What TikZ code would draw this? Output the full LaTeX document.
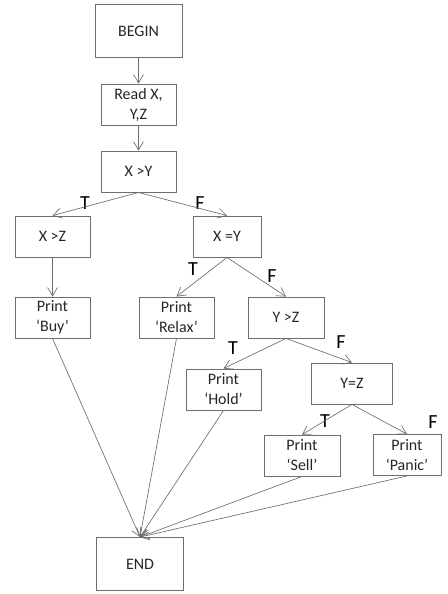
\documentclass[tikz,border=0pt]{standalone}
\usepackage{fontspec}
\setmainfont{Carlito}
\usetikzlibrary{arrows.meta}
\definecolor{edge}{HTML}{6E6E6E}
\tikzset{
  % A flowchart box: a step or a test
  stepbox/.style={
    draw=edge, fill=white, rectangle, align=center, text=black!85,
    font=\fontsize{12}{15}\selectfont, inner sep=2pt,
    minimum width=#1, minimum height=31pt},
  % The large begin / end boxes
  termbox/.style={stepbox=#1, minimum height=40pt},
  % Branch labels
  branch/.style={font=\fontsize{15}{15}\selectfont, text=black, inner sep=0pt},
  % Connectors
  flow/.style={-{Straight Barb[length=2.2mm, width=2.6mm]}, draw=edge, line width=0.5pt},
}

\begin{document}
\begin{tikzpicture}[x=0.75pt, y=-0.75pt]
  \useasboundingbox (0,0) rectangle (448,594);

  \node[termbox=65pt] (begin) at (138.5,31) {BEGIN};
  \node[stepbox=56pt] (read) at (138.5,104.5) {Read X,\\Y,Z};
  \node[stepbox=56pt] (xgty) at (138.5,171.5) {X >Y};

  \node[stepbox=56pt] (xgtz) at (52.5,236.5) {X >Z};
  \node[stepbox=51pt] (xeqy) at (227,236.5) {X =Y};

  \node[stepbox=56pt] (buy) at (52.5,317.5) {Print\\‘Buy’};
  \node[stepbox=56pt] (relax) at (176.5,317.5) {Print\\‘Relax’};
  \node[stepbox=57pt] (ygtz) at (286,317.5) {Y >Z};

  \node[stepbox=56pt] (hold) at (223.5,389.5) {Print\\‘Hold’};
  \node[stepbox=61pt] (yeqz) at (352,383.5) {Y=Z};

  \node[stepbox=57pt] (sell) at (302,455.5) {Print\\‘Sell’};
  \node[stepbox=51pt] (panic) at (407,455) {Print\\‘Panic’};

  \node[termbox=65pt] (finish) at (140,564) {END};

  % branch labels
  \node[branch] (t1) at (85,203) {T};
  \node[branch] (f1) at (200,203) {F};
  \node[branch] (t2) at (193,269) {T};
  \node[branch] (f2) at (272,276) {F};
  \node[branch] (t3) at (233,348) {T};
  \node[branch] (f3) at (341,342) {F};
  \node[branch] (t4) at (325,421) {T};
  \node[branch] (f4) at (433,422) {F};

  \draw[flow] (begin) -- (read);
  \draw[flow] (read) -- (xgty);
  \draw[flow] (xgty.south) -- (xgtz.north);
  \draw[flow] (xgty.south) -- (xeqy.north);
  \draw[flow] (xgtz) -- (buy);
  \draw[flow] (xeqy.south) -- (relax.north);
  \draw[flow] (xeqy.south) -- (ygtz.north);
  \draw[flow] (ygtz.south) -- (hold.north);
  \draw[flow] (ygtz.south) -- (yeqz.north);
  \draw[flow] (yeqz.south) -- (sell.north);
  \draw[flow] (yeqz.south) -- (panic.north);

  \draw[flow] (buy.south) -- (finish.north);
  \draw[flow] (relax.south) -- (finish.north);
  \draw[flow] (hold.south) -- (finish.north);
  \draw[flow] (sell.south) -- (finish.north);
  \draw[flow] (panic.south) -- (finish.north);

\end{tikzpicture}
\end{document}
